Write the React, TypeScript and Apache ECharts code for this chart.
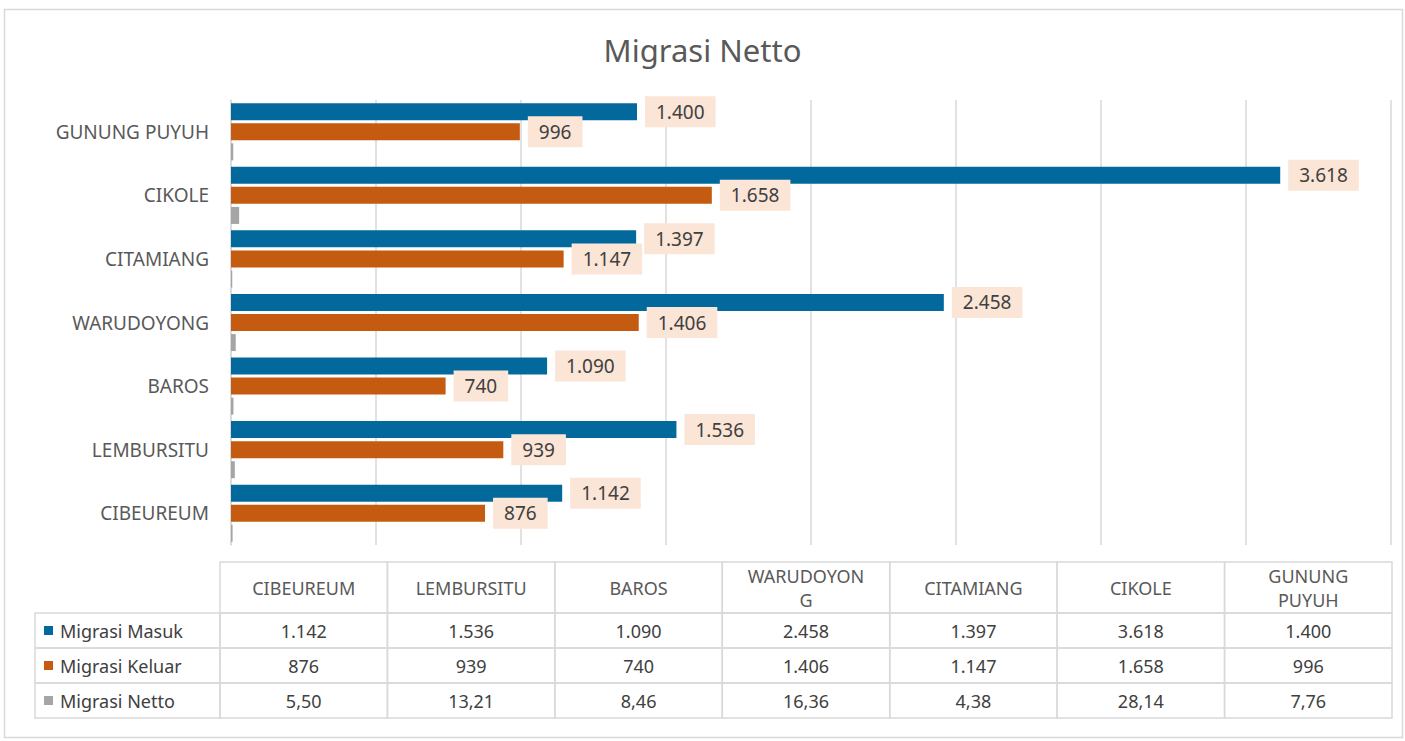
import React, { useEffect, useRef } from "react";
import * as echarts from "echarts";

const categories = ["CIBEUREUM", "LEMBURSITU", "BAROS", "WARUDOYONG", "CITAMIANG", "CIKOLE", "GUNUNG PUYUH"];
const tableHeaders = ["CIBEUREUM", "LEMBURSITU", "BAROS", "WARUDOYON\nG", "CITAMIANG", "CIKOLE", "GUNUNG\nPUYUH"];
const migrasiMasuk = [1142, 1536, 1090, 2458, 1397, 3618, 1400];
const migrasiKeluar = [876, 939, 740, 1406, 1147, 1658, 996];
const migrasiNetto = [5.5, 13.21, 8.46, 16.36, 4.38, 28.14, 7.76];
const seriesNames = ["Migrasi Masuk", "Migrasi Keluar", "Migrasi Netto"];
const seriesColors = ["#03699D", "#C55A11", "#A5A5A5"];
const xMin = 0;
const xMax = 4000;
const xInterval = 500;

const FONT = "'Noto Sans', 'DejaVu Sans', sans-serif";
const fmtInt = (v: number) => String(v).replace(/\B(?=(\d{3})+(?!\d))/g, ".");
const fmtDec = (v: number) => v.toFixed(2).replace(".", ",");

function buildTable() {
  const els: any[] = [];
  const left = 220;
  const right = 1392;
  const legLeft = 35;
  const top = 562;
  const headerH = 51;
  const rowH = 35;
  const colW = (right - left) / categories.length;
  const stroke = { stroke: "#D9D9D9", lineWidth: 1.5, fill: "none" };
  tableHeaders.forEach((h, i) => {
    els.push({ type: "rect", shape: { x: left + i * colW, y: top, width: colW, height: headerH }, style: { ...stroke }, silent: true });
    els.push({
      type: "text",
      x: left + i * colW + colW / 2,
      y: top + headerH / 2,
      style: { text: h, fill: "#595959", font: `18px ${FONT}`, align: "center", verticalAlign: "middle", lineHeight: 24 },
      silent: true,
    });
  });
  const rows = [migrasiMasuk.map(fmtInt), migrasiKeluar.map(fmtInt), migrasiNetto.map(fmtDec)];
  rows.forEach((vals, r) => {
    const y = top + headerH + r * rowH;
    els.push({ type: "rect", shape: { x: legLeft, y, width: left - legLeft, height: rowH }, style: { ...stroke }, silent: true });
    els.push({ type: "rect", shape: { x: 44, y: y + rowH / 2 - 4.5, width: 9, height: 9 }, style: { fill: seriesColors[r] }, silent: true });
    els.push({
      type: "text",
      x: 60,
      y: y + rowH / 2,
      style: { text: seriesNames[r], fill: "#404040", font: `18px ${FONT}`, align: "left", verticalAlign: "middle" },
      silent: true,
    });
    vals.forEach((v, i) => {
      els.push({ type: "rect", shape: { x: left + i * colW, y, width: colW, height: rowH }, style: { ...stroke }, silent: true });
      els.push({
        type: "text",
        x: left + i * colW + colW / 2,
        y: y + rowH / 2,
        style: { text: v, fill: "#404040", font: `18px ${FONT}`, align: "center", verticalAlign: "middle" },
        silent: true,
      });
    });
  });
  return els;
}

export default function App() {
  const ref = useRef<HTMLDivElement>(null);
  useEffect(() => {
    document.body.style.margin = "0";
    const chart = echarts.init(ref.current!, null, { renderer: "svg" });
    const label = {
      show: true,
      position: "right",
      distance: 8,
      backgroundColor: "#FBE5D6",
      padding: [7, 11, 5, 11],
      color: "#404040",
      fontSize: 19,
      fontFamily: FONT,
      formatter: (p: any) => fmtInt(p.value),
    };
    chart.setOption({
      animation: false,
      backgroundColor: "#fff",
      title: {
        text: "Migrasi Netto",
        left: "center",
        top: 29,
        textStyle: { fontFamily: FONT, fontSize: 31, fontWeight: "normal", color: "#595959" },
      },
      grid: { left: 231, right: 14, top: 100, bottom: 196, containLabel: false },
      xAxis: {
        type: "value",
        min: xMin,
        max: xMax,
        interval: xInterval,
        axisLabel: { show: false },
        axisLine: { show: false },
        axisTick: { show: false },
        splitLine: { show: true, lineStyle: { color: "#D9D9D9", width: 1.5 } },
      },
      yAxis: {
        type: "category",
        data: categories,
        axisLine: { show: true, lineStyle: { color: "#D9D9D9", width: 1.5 } },
        axisTick: { show: false },
        axisLabel: { margin: 22, fontSize: 19, color: "#595959", fontFamily: FONT },
      },
      series: [
        {
          name: seriesNames[0],
          type: "bar",
          data: migrasiMasuk,
          itemStyle: { color: seriesColors[0] },
          barWidth: 17,
          barGap: "18%",
          barCategoryGap: "10%",
          label,
        },
        {
          name: seriesNames[1],
          type: "bar",
          data: migrasiKeluar,
          itemStyle: { color: seriesColors[1] },
          barWidth: 17,
          barGap: "18%",
          label,
        },
        {
          name: seriesNames[2],
          type: "bar",
          data: migrasiNetto,
          itemStyle: { color: seriesColors[2] },
          barWidth: 17,
          barGap: "18%",
        },
      ],
      graphic: [
        {
          type: "rect",
          shape: { x: 4.5, y: 9.5, width: 1398, height: 728 },
          style: { fill: "none", stroke: "#D9D9D9", lineWidth: 1.5 },
          silent: true,
          z: -1,
        },
        ...buildTable(),
      ],
    });
    return () => chart.dispose();
  }, []);
  return <div ref={ref} style={{ width: 1405, height: 741 }} />;
}
